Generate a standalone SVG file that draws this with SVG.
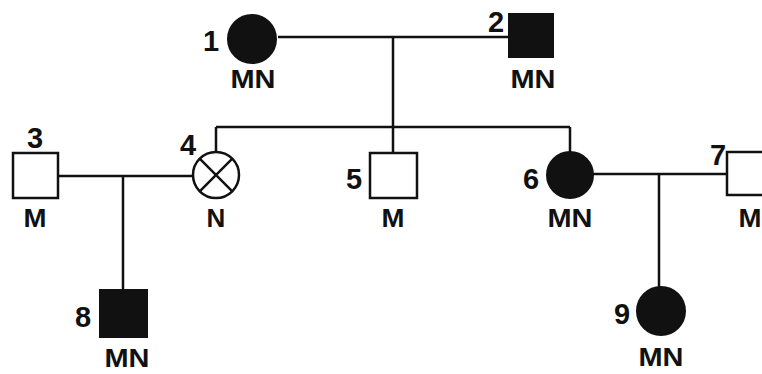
<svg xmlns="http://www.w3.org/2000/svg" width="762" height="374" viewBox="0 0 762 374">
<style>
.l{stroke:#111;stroke-width:2.5;fill:none}
.o{fill:#fff;stroke:#111;stroke-width:2.5}
.f{fill:#111;stroke:#111;stroke-width:2}
text{font-family:"Liberation Sans",Arial,sans-serif;font-weight:bold;fill:#111}
.n{font-size:29px;text-anchor:middle}
.g{font-size:26px;text-anchor:middle}
</style>
<rect width="762" height="374" fill="#fff"/>
<g id="connectors">
<path class="l" d="M278 37H509M393 37V127M216 127H570M216 127V152M393 127V153M570 127V152"/>
<path class="l" d="M58 176H193M123 176V290"/>
<path class="l" d="M593 174H727M659 174V287"/>
</g>
<g id="node1"><circle class="f" cx="252" cy="39" r="24"/><text class="n" x="211" y="51">1</text><text class="g" x="253" y="88" textLength="45" lengthAdjust="spacingAndGlyphs">MN</text></g>
<g id="node2"><rect class="f" x="509" y="14" width="44" height="43"/><text class="n" x="496" y="32">2</text><text class="g" x="533" y="88" textLength="45" lengthAdjust="spacingAndGlyphs">MN</text></g>
<g id="node3"><rect class="o" x="13" y="153" width="45" height="45"/><text class="n" x="35" y="148">3</text><text class="g" x="35" y="227" textLength="23" lengthAdjust="spacingAndGlyphs">M</text></g>
<g id="node4"><circle class="o" cx="216" cy="175" r="23"/><path class="l" d="M199.7 158.7L232.3 191.3M232.3 158.7L199.7 191.3"/><text class="n" x="188" y="155">4</text><text class="g" x="216" y="227">N</text></g>
<g id="node5"><rect class="o" x="370" y="153" width="47" height="45"/><text class="n" x="354" y="189">5</text><text class="g" x="393" y="227" textLength="23" lengthAdjust="spacingAndGlyphs">M</text></g>
<g id="node6"><circle class="f" cx="570" cy="175" r="23"/><text class="n" x="531" y="189">6</text><text class="g" x="570" y="227" textLength="45" lengthAdjust="spacingAndGlyphs">MN</text></g>
<g id="node7"><rect class="o" x="727" y="152" width="45" height="43"/><text class="n" x="718" y="165">7</text><text class="g" x="750" y="227" textLength="23" lengthAdjust="spacingAndGlyphs">M</text></g>
<g id="node8"><rect class="f" x="100" y="290" width="47" height="47"/><text class="n" x="83" y="327">8</text><text class="g" x="127" y="367" textLength="45" lengthAdjust="spacingAndGlyphs">MN</text></g>
<g id="node9"><circle class="f" cx="661" cy="311" r="24"/><text class="n" x="622" y="324">9</text><text class="g" x="661" y="366" textLength="45" lengthAdjust="spacingAndGlyphs">MN</text></g>
</svg>
